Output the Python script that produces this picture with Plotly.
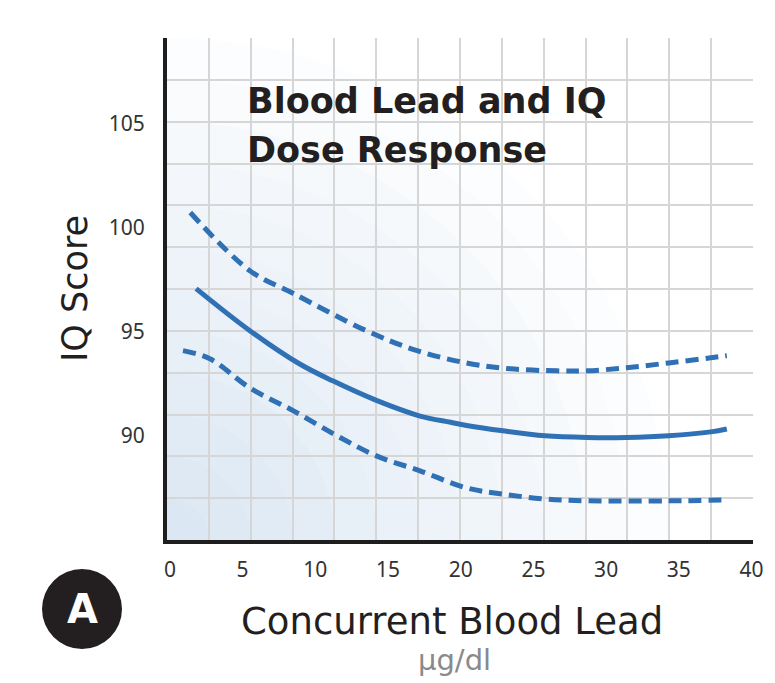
import plotly.graph_objects as go

# blood lead (ug/dl) vs IQ
lead_mid = [1.8, 5.5, 8.9, 11.2, 14.2, 17.2, 19.3, 20.4, 22.9, 25.8, 28.7, 31.4, 34.3, 37.2, 38.3]
iq_mid = [97.07, 95.05, 93.46, 92.64, 91.7, 90.95, 90.65, 90.5, 90.24, 90.0, 89.92, 89.92, 90.0, 90.19, 90.33]

lead_hi = [1.4, 5.5, 8.5, 13.5, 17.0, 20.4, 23.4, 26.6, 28.7, 31.4, 34.3, 37.2, 38.3]
iq_hi = [100.72, 97.93, 96.83, 95.05, 94.09, 93.5, 93.22, 93.12, 93.12, 93.27, 93.5, 93.75, 93.85]

lead_lo = [0.9, 2.75, 5.5, 8.5, 11.5, 14.2, 17.2, 20.4, 22.9, 25.8, 28.7, 34.3, 38.3]
iq_lo = [94.09, 93.7, 92.3, 91.2, 90.0, 89.04, 88.32, 87.5, 87.2, 86.97, 86.88, 86.88, 86.92]

x_ticks = [0, 5, 10, 15, 20, 25, 30, 35, 40]
y_ticks = [90, 95, 100, 105]

blue = "#3070b5"
dash = "13px,7px"

fig = go.Figure()

# dummy trace so the square grid axes (x, y) get drawn underneath
fig.add_trace(go.Scatter(x=[], y=[], xaxis="x", yaxis="y", showlegend=False, hoverinfo="skip"))

fig.add_trace(go.Scatter(x=lead_hi, y=iq_hi, xaxis="x2", yaxis="y2", mode="lines",
                         line=dict(color=blue, width=5, dash=dash, shape="spline"),
                         showlegend=False))
fig.add_trace(go.Scatter(x=lead_lo, y=iq_lo, xaxis="x2", yaxis="y2", mode="lines",
                         line=dict(color=blue, width=5, dash=dash, shape="spline"),
                         showlegend=False))
fig.add_trace(go.Scatter(x=lead_mid, y=iq_mid, xaxis="x2", yaxis="y2", mode="lines",
                         line=dict(color=blue, width=5, shape="spline"),
                         showlegend=False))

# soft blue glow from the bottom-left corner
shapes = []
for r in range(1, 13):
    shapes.append(dict(type="circle", xref="x", yref="y", x0=-r, x1=r, y0=-r, y1=r,
                       fillcolor="#93b6dc", opacity=0.027, line=dict(width=0), layer="below"))

# black "A" badge
shapes.append(dict(type="circle", xref="paper", yref="paper",
                   x0=-0.2133, x1=-0.0768, y0=-0.2171, y1=-0.0578,
                   fillcolor="#231f20", line=dict(width=0)))

font = "Noto Sans, Open Sans, sans-serif"
wide = "DejaVu Sans, sans-serif"

# page body has an 8px margin, so the figure is 8px smaller each way
fig.update_layout(
    width=767, height=675,
    margin=dict(l=159, r=22, t=30, b=143),
    paper_bgcolor="white", plot_bgcolor="white",
    shapes=shapes,
    xaxis=dict(range=[0, 14], dtick=1, showgrid=True, gridcolor="#d6d6d6", gridwidth=2,
               showticklabels=False, ticks="", zeroline=False, showline=False, fixedrange=True),
    yaxis=dict(range=[0, 12], dtick=1, showgrid=True, gridcolor="#d6d6d6", gridwidth=2,
               showticklabels=False, ticks="", zeroline=False, showline=False, fixedrange=True),
    xaxis2=dict(overlaying="x", side="bottom", range=[-0.2, 40.1], tickvals=x_ticks,
                showgrid=False, zeroline=False, showline=True, linecolor="#1e1e1e", linewidth=4,
                ticks="", ticklabelstandoff=8,
                tickfont=dict(family=font, size=21, color="#333333")),
    yaxis2=dict(overlaying="y", side="left", range=[85, 109.1], tickvals=y_ticks,
                showgrid=False, zeroline=False, showline=True, linecolor="#1e1e1e", linewidth=4,
                ticks="", ticklabelstandoff=14,
                tickfont=dict(family=font, size=21, color="#333333")),
    annotations=[
        dict(text="<b>Blood Lead and IQ</b>", xref="paper", yref="paper", x=0.133, y=0.8745,
             xanchor="left", yanchor="middle", showarrow=False,
             font=dict(family=wide, size=35, color="#231f20")),
        dict(text="<b>Dose Response</b>", xref="paper", yref="paper", x=0.133, y=0.777,
             xanchor="left", yanchor="middle", showarrow=False,
             font=dict(family=wide, size=35, color="#231f20")),
        dict(text="IQ Score", xref="paper", yref="paper", x=-0.157, y=0.502, textangle=-90,
             xanchor="center", yanchor="middle", showarrow=False,
             font=dict(family=wide, size=35, color="#231f20")),
        dict(text="Concurrent Blood Lead", xref="paper", yref="paper", x=0.486, y=-0.163,
             xanchor="center", yanchor="middle", showarrow=False,
             font=dict(family=wide, size=37, color="#231f20")),
        dict(text="µg/dl", xref="paper", yref="paper", x=0.49, y=-0.239,
             xanchor="center", yanchor="middle", showarrow=False,
             font=dict(family=wide, size=29, color="#8a8a8a")),
        dict(text="<b>A</b>", xref="paper", yref="paper", x=-0.145, y=-0.1375,
             xanchor="center", yanchor="middle", showarrow=False,
             font=dict(family=wide, size=40, color="white")),
    ],
)

fig.write_html("out.html")
